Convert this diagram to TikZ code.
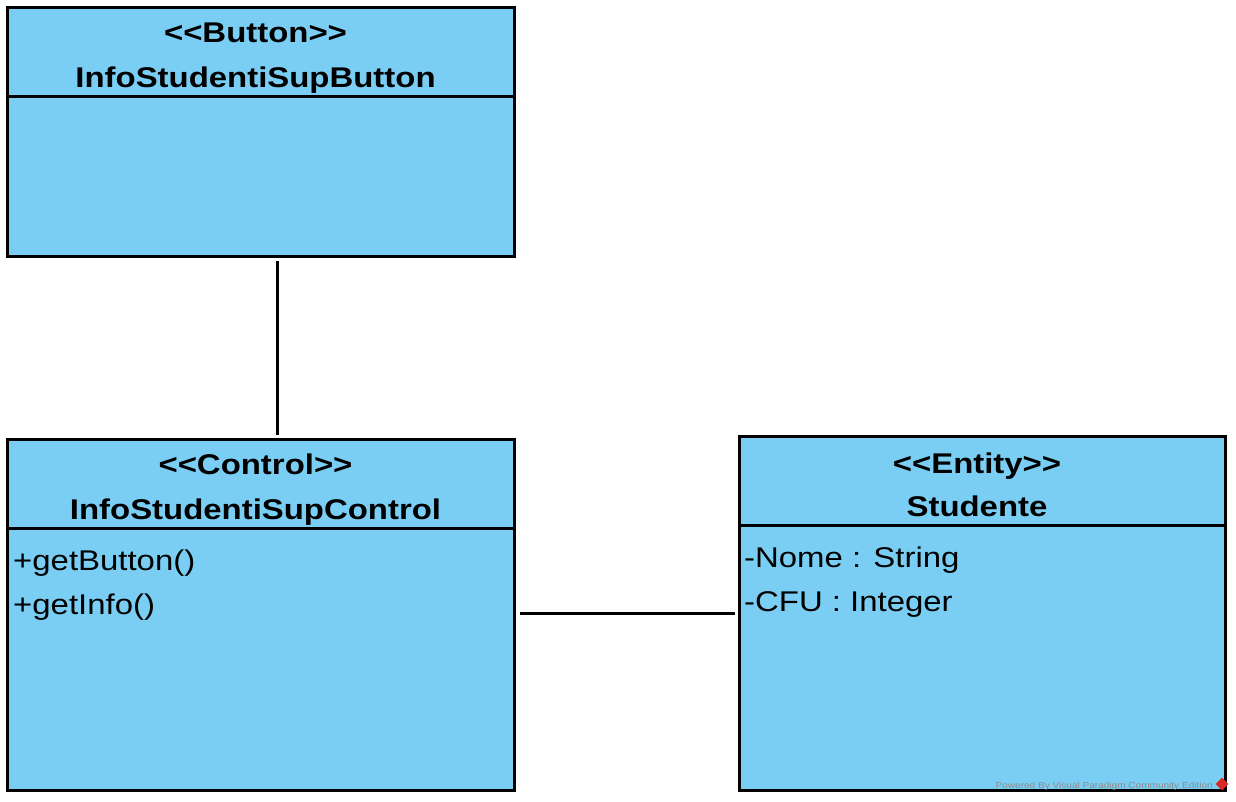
\documentclass[tikz,border=0pt]{standalone}
\usepackage{fontspec}
\setmainfont{Liberation Sans}[FakeStretch=1.155]
\definecolor{vpfill}{RGB}{122,206,244}
\definecolor{wmgrey}{RGB}{140,140,140}
\definecolor{wmred}{RGB}{215,40,40}
\tikzset{
  umlbox/.style={draw=black, line width=3pt, fill=vpfill, rectangle, inner sep=0pt, anchor=north west},
  divider/.style={draw=black, line width=3pt},
  conn/.style={draw=black, line width=3pt},
  stereo/.style={font=\fontsize{28.5}{34}\selectfont\bfseries, anchor=base, inner sep=0pt},
  member/.style={font=\fontsize{28.5}{34}\selectfont, anchor=base west, inner sep=0pt},
  watermark/.style={font=\fontsize{8.7}{10}\selectfont, text=wmgrey, anchor=base east, inner sep=0pt}
}
\begin{document}
\begin{tikzpicture}[x=1pt,y=-1pt]
\useasboundingbox (0,0) rectangle (1236,801);
\fill[white] (0,0) rectangle (1236,801);
% Button class
\node[umlbox, minimum width=507pt, minimum height=249pt] (btn) at (6,6) {};
\draw[divider] (6,96) -- (513,96);
\node[stereo] (btnst) at (255.5,42) {<{}<Button>{}>};
\node[stereo] (btnnm) at (255.5,87) {InfoStudentiSupButton};
% Control class
\node[umlbox, minimum width=507pt, minimum height=351pt] (ctl) at (6,438) {};
\draw[divider] (6,528) -- (513,528);
\node[stereo] (ctlst) at (255.5,474) {<{}<Control>{}>};
\node[stereo] (ctlnm) at (255.5,519) {InfoStudentiSupControl};
\node[member] (m1) at (13,570) {+getButton()};
\node[member] (m2) at (13,614) {+getInfo()};
% Entity class
\node[umlbox, minimum width=486pt, minimum height=354pt] (ent) at (738,435) {};
\draw[divider] (738,525) -- (1224,525);
\node[stereo] (entst) at (977,473) {<{}<Entity>{}>};
\node[stereo] (entnm) at (977,516) {Studente};
\node[member] (a1) at (744,567) {-Nome : String};
\node[member] (a2) at (744,611) {-CFU : Integer};
% connectors
\draw[conn, shorten <=3pt, shorten >=3pt] ([xshift=16.5pt]btn.south) -- ([xshift=16.5pt]ctl.north);
\draw[conn, shorten <=4pt, shorten >=3pt] (ctl.east |- ent.west) -- (ent.west);
% watermark
\node[watermark] (wm) at (1213,788) {Powered By\,\,Visual Paradigm Community Edition};
\node[fill=wmred, rotate=45, minimum size=9pt, inner sep=0pt] (logo) at (1222,784) {};
\end{tikzpicture}
\end{document}
